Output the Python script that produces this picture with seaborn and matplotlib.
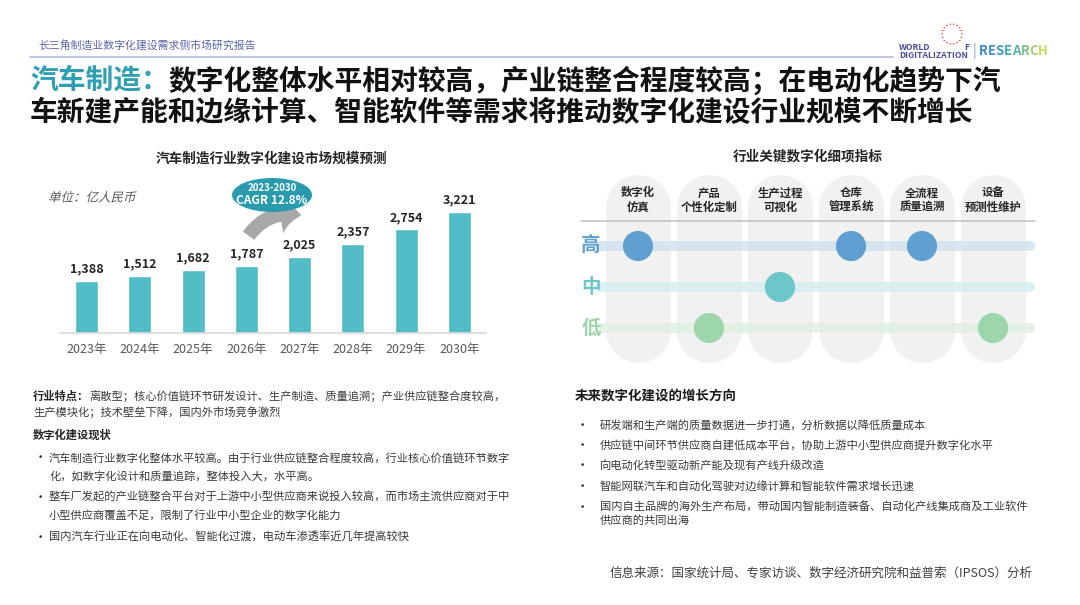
import numpy as np
import pandas as pd
import matplotlib
matplotlib.use("Agg")
import matplotlib.pyplot as plt
import seaborn as sns
from matplotlib.patches import Ellipse, FancyArrowPatch, Circle, PathPatch
from matplotlib.lines import Line2D
from matplotlib.textpath import TextPath
from matplotlib.font_manager import FontProperties
from matplotlib.transforms import Affine2D

# ---- data ----
years = ["2023年", "2024年", "2025年", "2026年", "2027年", "2028年", "2029年", "2030年"]
market_size = [1388, 1512, 1682, 1787, 2025, 2357, 2754, 3221]

indicators = ["数字化\n仿真", "产品\n个性化定制", "生产过程\n可视化", "仓库\n管理系统", "全流程\n质量追溯", "设备\n预测性维护"]
levels = ["低", "中", "高"]
indicator_level = ["高", "低", "中", "高", "高", "低"]

header = "长三角制造业数字化建设需求侧市场研究报告"
title_key = "汽车制造："
title_line1 = "数字化整体水平相对较高，产业链整合程度较高；在电动化趋势下汽"
title_line2 = "车新建产能和边缘计算、智能软件等需求将推动数字化建设行业规模不断增长"
bar_title = "汽车制造行业数字化建设市场规模预测"
unit_text = "单位：亿人民币"
cagr_period = "2023-2030"
cagr_text = "CAGR 12.8%"
dot_title = "行业关键数字化细项指标"

traits_head = "行业特点："
traits_lines = ["离散型；核心价值链环节研发设计、生产制造、质量追溯；产业供应链整合度较高，",
                "生产模块化；技术壁垒下降，国内外市场竞争激烈"]
status_head = "数字化建设现状"
status_bullets = [["汽车制造行业数字化整体水平较高。由于行业供应链整合程度较高，行业核心价值链环节数字",
                   "化，如数字化设计和质量追踪，整体投入大，水平高。"],
                  ["整车厂发起的产业链整合平台对于上游中小型供应商来说投入较高，而市场主流供应商对于中",
                   "小型供应商覆盖不足，限制了行业中小型企业的数字化能力"],
                  ["国内汽车行业正在向电动化、智能化过渡，电动车渗透率近几年提高较快"]]
future_head = "未来数字化建设的增长方向"
future_bullets = [["研发端和生产端的质量数据进一步打通，分析数据以降低质量成本"],
                  ["供应链中间环节供应商自建低成本平台，协助上游中小型供应商提升数字化水平"],
                  ["向电动化转型驱动新产能及现有产线升级改造"],
                  ["智能网联汽车和自动化驾驶对边缘计算和智能软件需求增长迅速"],
                  ["国内自主品牌的海外生产布局，带动国内智能制造装备、自动化产线集成商及工业软件",
                   "供应商的共同出海"]]
source = "信息来源：国家统计局、专家访谈、数字经济研究院和益普索（IPSOS）分析"

# ---- style ----
W, H = 1080, 605
TEAL = "#2f9fb1"
BAR = "#52bdc6"
TXT = "#3a3a3a"
level_colors = {"高": "#5fa0d0", "中": "#6cc6ca", "低": "#9dd5ad"}
band_colors = {"高": "#cfe1f0", "中": "#d3eeef", "低": "#ddf0e0"}


def fx(x):
    return x / W


def fy(y):
    return 1 - y / H


def add_ax(x0, y0, x1, y1):
    return fig.add_axes([x0 / W, 1 - y1 / H, (x1 - x0) / W, (y1 - y0) / H])


sns.set_theme(style="white")
plt.rcParams['font.family'] = ['Noto Sans CJK SC', 'DejaVu Sans']

fig = plt.figure(figsize=(10.8, 6.05), dpi=100)
fig.patch.set_facecolor("white")

# header + logo
fig.text(fx(38), fy(46), header, fontsize=7.8, color="#5a66a8", va="center")
fig.add_artist(Line2D([fx(30), fx(893)], [fy(57), fy(57)], color="#b3bbdf", lw=1.2))
fig.text(fx(899), fy(47), "WORLD", fontsize=6.2, color="#4a4f9a", fontweight="bold", va="center")
fig.text(fx(899), fy(56), "DIGITALIZATION", fontsize=6.2, color="#4a4f9a", fontweight="bold", va="center")
fig.text(fx(964), fy(47), "F", fontsize=6.2, color="#4a4f9a", fontweight="bold", va="center")
for a in np.linspace(0, 2 * np.pi, 18, endpoint=False):
    fig.add_artist(Circle((fx(952 + 10 * np.cos(a)), fy(34 + 10 * np.sin(a))), 1.0 / W,
                          transform=fig.transFigure, color="#e5483c", lw=0))
fig.text(fx(973), fy(51), "|", fontsize=10, color="#8a9ac0", va="center")
renderer = fig.canvas.get_renderer()
lx = 979
logo_cols = ["#3f86c4", "#3f8fc0", "#3f9bbb", "#47a6b0", "#5cb3a2", "#7fc38c", "#a2cf70", "#c3da52"]
for ch, col in zip("RESEARCH", logo_cols):
    t = fig.text(fx(lx), fy(51), ch, fontsize=9.4, color=col, fontweight="bold", va="center")
    lx += t.get_window_extent(renderer).width

# main title
fig.text(fx(30), fy(81), title_key, fontsize=20, color=TEAL, fontweight="heavy", va="center")
fig.text(fx(168), fy(81), title_line1, fontsize=20, color="#111111", fontweight="heavy", va="center")
fig.text(fx(30), fy(113), title_line2, fontsize=20, color="#111111", fontweight="heavy", va="center")

# ---- bar chart ----
fig.text(fx(271), fy(158), bar_title, fontsize=9.8, fontweight="bold", color="#262626", ha="center", va="center")
# italic unit label (CJK font has no italic face, so slant the glyph outline)
upath = TextPath((0, 0), unit_text, size=9, prop=FontProperties(family="Noto Sans CJK SC"))
utrans = Affine2D().skew_deg(14, 0).scale(100 / 72).translate(48, H - 197 - 4.5)
fig.add_artist(PathPatch(upath, transform=utrans, color="#595959", lw=0))

ax = add_ax(60, 180, 486, 333)
df = pd.DataFrame({"year": years, "size": market_size})
sns.barplot(data=df, x="year", y="size", color=BAR, width=0.43, saturation=1, ax=ax)
ax.set_xlim(-0.5, 7.5)
ax.set_ylim(0, 153 / 0.0376)
ax.bar_label(ax.containers[0], labels=[f"{v:,}" for v in market_size], padding=4,
             fontsize=9, fontweight="bold", color="#262626")
ax.set_xlabel("")
ax.set_ylabel("")
ax.set_yticks([])
ax.tick_params(axis="x", length=0, pad=7, labelsize=9, labelcolor="#595959")
sns.despine(ax=ax, left=True)
ax.spines["bottom"].set_color("#d9d9d9")
ax.spines["bottom"].set_linewidth(1.2)
ax.set_facecolor("none")

# CAGR badge + arrow
arrow = FancyArrowPatch((fx(247), fy(238)), (fx(304), fy(216)), transform=fig.transFigure,
                        connectionstyle="arc3,rad=-0.35",
                        arrowstyle="simple,head_length=0.9,head_width=1.6,tail_width=0.6",
                        mutation_scale=17, color="#a8a8a8", lw=0)
fig.add_artist(arrow)
fig.add_artist(Ellipse((fx(272), fy(195)), 80 / W, 34 / H, transform=fig.transFigure, color="#2a9bad", lw=0))
fig.text(fx(272), fy(188), cagr_period, fontsize=7, fontweight="bold", color="white", ha="center", va="center")
fig.text(fx(272), fy(201), cagr_text, fontsize=8.6, fontweight="bold", color="white", ha="center", va="center")

# ---- indicator dot matrix ----
fig.text(fx(808), fy(156), dot_title, fontsize=9.8, fontweight="bold", color="#262626", ha="center", va="center")

ax2 = add_ax(575, 170, 1040, 365)
ax2.axis("off")

n = len(indicators)
for i in range(n):
    ax2.plot([i, i], [-0.04, 2.94], lw=65 * 0.72, color="#f1f1f1", solid_capstyle="round", zorder=0)
for j, lv in enumerate(levels):
    ax2.plot([-0.535, 5.52], [j, j], lw=7.2, color=band_colors[lv], alpha=0.8,
             solid_capstyle="round", zorder=1)
    ax2.text(-0.66, j, lv, fontsize=14, fontweight="bold", color=level_colors[lv], ha="center", va="center")
ax2.plot([-0.803, 5.59], [2.61, 2.61], color="#bfbfbf", lw=1.1, zorder=1)
for i, name in enumerate(indicators):
    ax2.text(i, 3.12, name, fontsize=8.2, fontweight="bold", color="#262626",
             ha="center", va="center", linespacing=1.15)

dot_df = pd.DataFrame({"pos": range(n), "level": indicator_level})
dot_df["row"] = dot_df["level"].map({lv: j for j, lv in enumerate(levels)})
sns.scatterplot(data=dot_df, x="pos", y="row", hue="level", palette=level_colors, s=470,
                linewidth=0, legend=False, zorder=3, ax=ax2)
ax2.set_xlim(-0.887, 5.662)
ax2.set_ylim(-0.902, 3.854)

# ---- bottom-left text ----
fs = 8.1
bfs = 9.5
fig.text(fx(33), fy(396), traits_head, fontsize=fs, fontweight="bold", color="#262626", va="center")
fig.text(fx(89), fy(396), traits_lines[0], fontsize=fs, color=TXT, va="center")
fig.text(fx(33), fy(412), traits_lines[1], fontsize=fs, color=TXT, va="center")
fig.text(fx(33), fy(435), status_head, fontsize=fs, fontweight="bold", color="#262626", va="center")
y = 458
for lines in status_bullets:
    fig.text(fx(34), fy(y), "•", fontsize=bfs, color=TXT, va="center")
    for k, line in enumerate(lines):
        fig.text(fx(49), fy(y + 18 * k), line, fontsize=fs, color=TXT, va="center")
    y += 18 * (len(lines) - 1) + 21.5

# ---- bottom-right text ----
fig.text(fx(575), fy(396), future_head, fontsize=9.7, fontweight="bold", color="#1a1a1a", va="center")
y = 425
for lines in future_bullets:
    fig.text(fx(576), fy(y), "•", fontsize=bfs, color=TXT, va="center")
    for k, line in enumerate(lines):
        fig.text(fx(600), fy(y + 14 * k), line, fontsize=fs, color=TXT, va="center")
    y += 14 * (len(lines) - 1) + 20.5

fig.text(fx(1033), fy(573), source, fontsize=9, color="#404040", ha="right", va="center")

fig.savefig("out.png", dpi=100, facecolor="white")
